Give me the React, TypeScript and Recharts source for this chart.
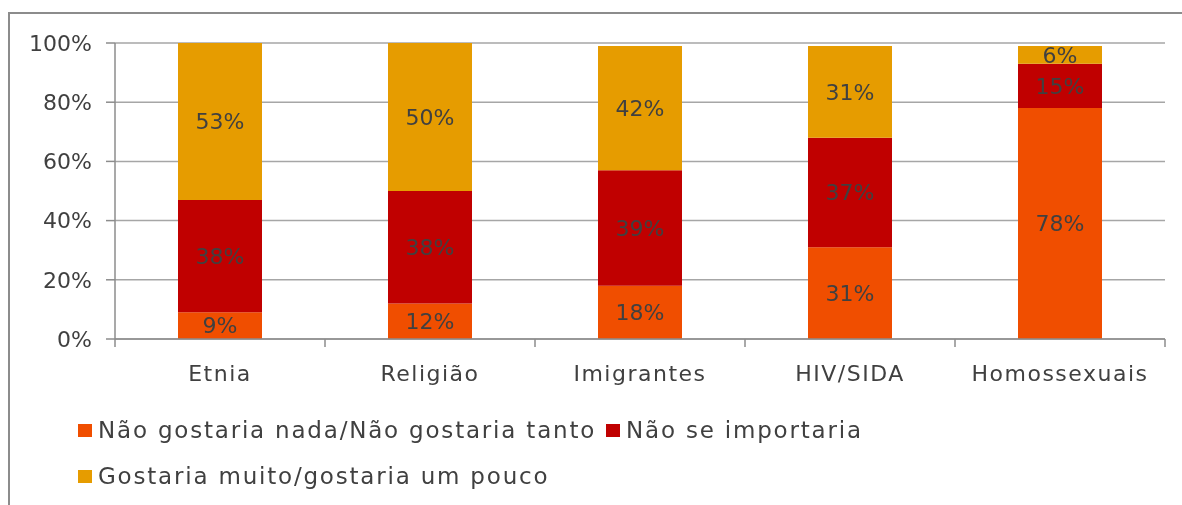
import { BarChart, Bar, XAxis, YAxis, CartesianGrid, LabelList } from "recharts";

const categories = ["Etnia", "Religião", "Imigrantes", "HIV/SIDA", "Homossexuais"];
const naoGostaria = [9, 12, 18, 31, 78];
const naoImporta = [38, 38, 39, 37, 15];
const gostaria = [53, 50, 42, 31, 6];
const yTicks = [0, 20, 40, 60, 80, 100];

const series = [
  { key: "naoGostaria", name: "Não gostaria nada/Não gostaria tanto", color: "#F04E00" },
  { key: "naoImporta", name: "Não se importaria", color: "#C00000" },
  { key: "gostaria", name: "Gostaria muito/gostaria um pouco", color: "#E69C00" },
];

const data = categories.map((name, i) => ({
  name,
  naoGostaria: naoGostaria[i],
  naoImporta: naoImporta[i],
  gostaria: gostaria[i],
}));

const FONT = "'DejaVu Sans', sans-serif";
const TEXT = "#404040";
const AXIS = "#8c8c8c";
const W = 1166;
const H = 482;
const PLOT_W = 1050;
const BAND = PLOT_W / categories.length;

function CatTick(props: any) {
  const { x, y, payload, index } = props;
  const last = index === categories.length - 1;
  return (
    <g>
      <line x1={x - BAND / 2} x2={x - BAND / 2} y1={y - 8} y2={y} stroke={AXIS} strokeWidth={1.5} />
      {last && <line x1={x + BAND / 2} x2={x + BAND / 2} y1={y - 8} y2={y} stroke={AXIS} strokeWidth={1.5} />}
      <text x={x} y={y + 34} textAnchor="middle" fill={TEXT} fontSize={22} fontFamily={FONT} letterSpacing={1.5}>
        {payload.value}
      </text>
    </g>
  );
}

export default function App() {
  return (
    <div style={{ position: "relative", width: W, height: H, overflow: "hidden", fontFamily: FONT }}>
      <div style={{ position: "fixed", left: 8, top: 12, right: 0, bottom: 0, borderLeft: `2px solid ${AXIS}`, borderTop: `2px solid ${AXIS}`, pointerEvents: "none" }} />
      <BarChart width={W} height={H} data={data} margin={{ top: 35, right: 9, left: 0, bottom: 101 }} barSize={84}>
        <CartesianGrid vertical={false} stroke="#a6a6a6" strokeWidth={1.5} />
        <XAxis dataKey="name" tickLine={false} axisLine={{ stroke: AXIS, strokeWidth: 1.5 }} height={50} tick={<CatTick />} interval={0} />
        <YAxis
          width={107}
          domain={[0, 100]}
          ticks={yTicks}
          tickFormatter={(v: number) => `${v}%`}
          tickSize={9}
          tickMargin={14}
          tickLine={{ stroke: AXIS, strokeWidth: 1.5 }}
          axisLine={{ stroke: AXIS, strokeWidth: 1.5 }}
          tick={{ fill: TEXT, fontSize: 22, fontFamily: FONT }}
        />
        {series.map(s => (
          <Bar key={s.key} dataKey={s.key} name={s.name} stackId="a" fill={s.color} isAnimationActive={false}>
            <LabelList dataKey={s.key} position="center" formatter={(v: any) => `${v}%`} fill={TEXT} fontSize={22} fontFamily={FONT} />
          </Bar>
        ))}
      </BarChart>
      <div style={{ position: "absolute", left: 70, top: 402, width: 880, display: "flex", flexWrap: "wrap", columnGap: 10, rowGap: 6 }}>
        {series.map(s => (
          <div key={s.key} style={{ display: "flex", alignItems: "center", height: 40, color: TEXT, fontSize: 23, letterSpacing: 1.8 }}>
            <span style={{ display: "inline-block", width: 14, height: 13, background: s.color, marginRight: 6 }} />
            {s.name}
          </div>
        ))}
      </div>
    </div>
  );
}
